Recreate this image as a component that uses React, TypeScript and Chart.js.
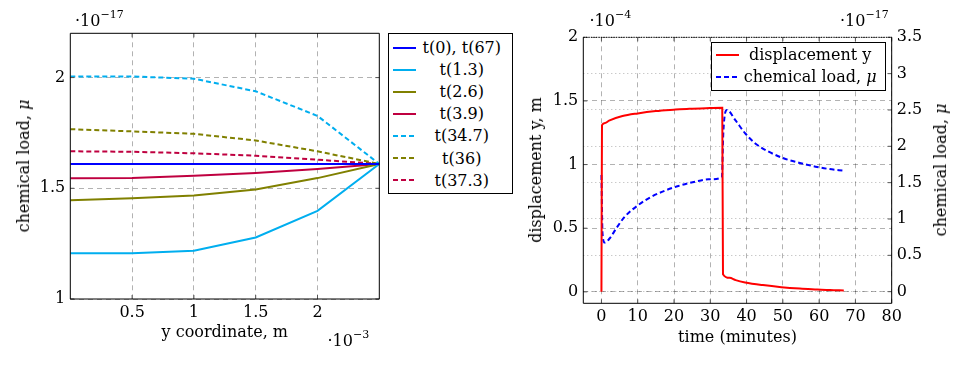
import React, { useEffect, useRef } from 'react';
import { Chart, registerables } from 'chart.js';
Chart.register(...registerables);

const FONT = '"DejaVu Serif", serif';

// ---------- Left chart data (x in 1e-3 m, mu in 1e-17) ----------
const yCoords = [0, 0.5, 1, 1.5, 2, 2.5];
const muT0 = [1.61, 1.61, 1.61, 1.61, 1.61, 1.61];
const muT1_3 = [1.207, 1.207, 1.218, 1.278, 1.398, 1.61];
const muT2_6 = [1.446, 1.455, 1.467, 1.495, 1.546, 1.61];
const muT3_9 = [1.545, 1.546, 1.557, 1.569, 1.587, 1.61];
const muT34_7 = [2.005, 2.005, 1.995, 1.938, 1.827, 1.61];
const muT36 = [1.767, 1.757, 1.746, 1.716, 1.667, 1.61];
const muT37_3 = [1.667, 1.665, 1.658, 1.647, 1.629, 1.61];
const leftLabels = ['t(0), t(67)', 't(1.3)', 't(2.6)', 't(3.9)', 't(34.7)', 't(36)', 't(37.3)'];
const leftXTicks = [0.5, 1, 1.5, 2];
const leftYTicks = [1, 1.5, 2];

// ---------- Right chart data ----------
const dispTime = [0, 0.15, 1, 2.1, 5.8, 10, 15, 19.9, 24.2, 29.9, 33.3, 33.5, 35.3, 37, 39.6, 44.5, 49.6, 54.7, 59.5, 63, 66.8];
const disp = [0, 1.31, 1.327, 1.345, 1.381, 1.402, 1.42, 1.431, 1.439, 1.444, 1.446, 0.139, 0.11, 0.092, 0.074, 0.053, 0.037, 0.026, 0.019, 0.014, 0.011];
const chemTime = [0, 0.3, 0.9, 2.3, 4.1, 6.4, 10.1, 13.8, 17.5, 21.2, 25.8, 29.5, 33.2, 33.6, 34.6, 36.9, 39.6, 42.4, 46.1, 50.2, 54.4, 59, 62.7, 66.8];
const chem = [1.605, 0.8, 0.675, 0.735, 0.872, 1.03, 1.19, 1.307, 1.39, 1.454, 1.513, 1.546, 1.573, 2.2, 2.5, 2.36, 2.18, 2.04, 1.926, 1.835, 1.775, 1.72, 1.688, 1.665];
const timeTicks = [0, 10, 20, 30, 40, 50, 60, 70, 80];
const dispTicks = [0, 0.5, 1, 1.5, 2];
const chemTicks = [0, 0.5, 1, 1.5, 2, 2.5, 3, 3.5];
const rightLabels = ['displacement y', 'chemical load, '];

const BLUE = '#0000ff';
const CYAN = '#00aeef';
const OLIVE = '#808000';
const PURPLE = '#bf0040';
const RED = '#ff0000';
const GRID = 'rgba(0,0,0,0.3)';

const leftSeries = [
  { data: muT0, color: BLUE, dash: [] as number[] },
  { data: muT1_3, color: CYAN, dash: [] },
  { data: muT2_6, color: OLIVE, dash: [] },
  { data: muT3_9, color: PURPLE, dash: [] },
  { data: muT34_7, color: CYAN, dash: [5, 3] },
  { data: muT36, color: OLIVE, dash: [5, 3] },
  { data: muT37_3, color: PURPLE, dash: [5, 3] },
];

const framePlugin = {
  id: 'frame',
  afterDatasetsDraw(chart: any, _args: any, opts: any) {
    const { ctx, chartArea: a } = chart;
    ctx.save();
    ctx.lineWidth = 1;
    ctx.strokeStyle = '#555';
    const sides = opts.tickSides || {};
    for (const id of Object.keys(sides)) {
      const s = chart.scales[id];
      if (!s) continue;
      s.ticks.forEach((t: any) => {
        const p = s.getPixelForValue(t.value);
        ctx.beginPath();
        for (const side of sides[id]) {
          if (side === 'bottom') { ctx.moveTo(p, a.bottom); ctx.lineTo(p, a.bottom - 4); }
          if (side === 'top') { ctx.moveTo(p, a.top); ctx.lineTo(p, a.top + 4); }
          if (side === 'left') { ctx.moveTo(a.left, p); ctx.lineTo(a.left + 4, p); }
          if (side === 'right') { ctx.moveTo(a.right, p); ctx.lineTo(a.right - 4, p); }
        }
        ctx.stroke();
      });
    }
    ctx.strokeStyle = '#000';
    ctx.beginPath();
    ctx.moveTo(a.left, a.top);
    ctx.lineTo(a.left, a.bottom);
    ctx.lineTo(a.right, a.bottom);
    ctx.lineTo(a.right, a.top);
    ctx.stroke();
    if (opts.topDash) ctx.setLineDash(opts.topDash);
    ctx.beginPath();
    ctx.moveTo(a.left, a.top);
    ctx.lineTo(a.right, a.top);
    ctx.stroke();
    ctx.restore();
  },
};

const tickFont = { family: FONT, size: 16 };
const fmt = (v: any) => String(Number(v));

function leftConfig(): any {
  return {
    type: 'line',
    data: {
      labels: yCoords,
      datasets: leftSeries.map((s, i) => ({
        label: leftLabels[i],
        data: yCoords.map((x, j) => ({ x, y: s.data[j] })),
        borderColor: s.color,
        borderDash: s.dash,
        borderWidth: 2,
        pointRadius: 0,
        fill: false,
        tension: 0,
      })),
    },
    plugins: [framePlugin],
    options: {
      animation: false,
      responsive: false,
      devicePixelRatio: 1,
      layout: { padding: { top: 33.3, right: 0.7, left: 0, bottom: 0 } },
      plugins: {
        legend: { display: false },
        tooltip: { enabled: false },
        frame: { tickSides: { x: ['top', 'bottom'], y: ['left', 'right'] } },
      },
      scales: {
        x: {
          type: 'linear',
          min: 0,
          max: 2.5,
          afterBuildTicks: (s: any) => { s.ticks = leftXTicks.map((v) => ({ value: v })); },
          afterFit: (s: any) => { s.height = 67; },
          grid: { color: GRID, drawTicks: false, lineWidth: 1 },
          border: { display: false, dash: [5, 4] },
          ticks: { font: tickFont, color: '#000', padding: 4, maxRotation: 0, callback: fmt },
          title: { display: true, text: 'y coordinate, m', font: tickFont, color: '#000', padding: { top: 0, bottom: 23.4 } },
        },
        y: {
          type: 'linear',
          min: 1,
          max: 2.2,
          afterBuildTicks: (s: any) => { s.ticks = leftYTicks.map((v) => ({ value: v })); },
          afterFit: (s: any) => { s.width = 70.3; },
          grid: { color: GRID, drawTicks: false, lineWidth: 1 },
          border: { display: false, dash: [5, 4] },
          ticks: { font: tickFont, color: '#000', padding: 5, callback: fmt },
        },
      },
    },
  };
}

function rightConfig(): any {
  return {
    type: 'line',
    data: {
      datasets: [
        {
          label: rightLabels[0],
          data: dispTime.map((t, i) => ({ x: t, y: disp[i] })),
          borderColor: RED,
          borderWidth: 2,
          pointRadius: 0,
          fill: false,
          cubicInterpolationMode: 'monotone',
          yAxisID: 'y',
        },
        {
          label: rightLabels[1] + 'μ',
          data: chemTime.map((t, i) => ({ x: t, y: chem[i] })),
          borderColor: BLUE,
          borderDash: [5, 3],
          borderWidth: 2,
          pointRadius: 0,
          fill: false,
          cubicInterpolationMode: 'monotone',
          yAxisID: 'y2',
        },
      ],
    },
    plugins: [framePlugin],
    options: {
      animation: false,
      responsive: false,
      devicePixelRatio: 1,
      layout: { padding: { top: 37.3, right: 0, left: 0, bottom: 0 } },
      plugins: {
        legend: { display: false },
        tooltip: { enabled: false },
        frame: { tickSides: { x: ['top', 'bottom'], y: ['left'], y2: ['right'] }, topDash: [1.5, 1] },
      },
      scales: {
        x: {
          type: 'linear',
          min: -5,
          max: 80,
          afterBuildTicks: (s: any) => { s.ticks = timeTicks.map((v) => ({ value: v })); },
          afterFit: (s: any) => { s.height = 62.7; },
          grid: { color: GRID, drawTicks: false, lineWidth: 1 },
          border: { display: false, dash: [5, 4] },
          ticks: { font: tickFont, color: '#000', padding: 4, maxRotation: 0, autoSkip: false, callback: fmt },
          title: { display: true, text: 'time (minutes)', font: tickFont, color: '#000', padding: { top: 0, bottom: 18.1 } },
        },
        y: {
          type: 'linear',
          position: 'left',
          min: -0.09,
          max: 2,
          afterBuildTicks: (s: any) => { s.ticks = dispTicks.map((v) => ({ value: v })); },
          afterFit: (s: any) => { s.width = 83.3; },
          grid: { color: GRID, drawTicks: false, lineWidth: 1 },
          border: { display: false, dash: [5, 4] },
          ticks: { font: tickFont, color: '#000', padding: 5, callback: fmt },
        },
        y2: {
          type: 'linear',
          position: 'right',
          min: -0.16,
          max: 3.5,
          afterBuildTicks: (s: any) => { s.ticks = chemTicks.map((v) => ({ value: v })); },
          afterFit: (s: any) => { s.width = 74.3; },
          grid: { color: GRID, drawTicks: false, lineWidth: 1 },
          border: { display: false, dash: [1, 3] },
          ticks: { font: tickFont, color: '#000', padding: 5, callback: fmt },
        },
      },
    },
  };
}

function ChartCanvas({ make, left, width }: { make: () => any; left: number; width: number }) {
  const ref = useRef<HTMLCanvasElement>(null);
  useEffect(() => {
    const chart = new Chart(ref.current as HTMLCanvasElement, make());
    return () => chart.destroy();
  }, []);
  return (
    <canvas
      ref={ref}
      width={width}
      height={366}
      style={{ position: 'absolute', left, top: 0, width, height: 366 }}
    />
  );
}

function Sample({ color, dash }: { color: string; dash: number[] }) {
  return (
    <svg width={23} height={4} style={{ display: 'block', flex: '0 0 23px' }}>
      <line x1={0} y1={2} x2={23} y2={2} stroke={color} strokeWidth={2} strokeDasharray={dash.length ? dash.join(' ') : undefined} />
    </svg>
  );
}

function Exponent({ left, top, exp }: { left: number; top: number; exp: string }) {
  return (
    <div style={{ position: 'absolute', left, top, fontSize: 16, lineHeight: '16px', whiteSpace: 'nowrap' }}>
      ·10<span style={{ fontSize: 11, position: 'relative', top: -8, verticalAlign: 'baseline' }}>{exp}</span>
    </div>
  );
}

function VTitle({ x, y, children }: { x: number; y: number; children: React.ReactNode }) {
  return (
    <div
      style={{
        position: 'absolute',
        left: x,
        top: y,
        transform: 'translate(-50%, -50%) rotate(-90deg)',
        fontSize: 16,
        whiteSpace: 'nowrap',
        lineHeight: '18px',
      }}
    >
      {children}
    </div>
  );
}

export default function App() {
  return (
    <div
      style={{
        position: 'absolute',
        left: 0,
        top: 0,
        width: 966,
        height: 366,
        background: '#fff',
        fontFamily: FONT,
        color: '#000',
        overflow: 'hidden',
      }}
    >
      <ChartCanvas make={leftConfig} left={0} width={380} />
      <ChartCanvas make={rightConfig} left={500} width={466} />

      <VTitle x={24} y={166}>chemical load, <i>μ</i></VTitle>
      <VTitle x={536} y={170}>displacement y, m</VTitle>
      <VTitle x={941} y={170}>chemical load, <i>μ</i></VTitle>

      <Exponent left={75} top={12.5} exp="−17" />
      <Exponent left={327.5} top={333.2} exp="−3" />
      <Exponent left={589.5} top={13.2} exp="−4" />
      <Exponent left={840} top={13.2} exp="−17" />

      <div
        style={{
          position: 'absolute',
          left: 388,
          top: 33,
          width: 125,
          height: 161,
          border: '1px solid #000',
          boxSizing: 'border-box',
          padding: '2.5px 4.5px 0 4px',
          background: '#fff',
        }}
      >
        {leftSeries.map((s, i) => (
          <div key={i} style={{ display: 'flex', alignItems: 'center', height: 22.1 }}>
            <Sample color={s.color} dash={s.dash} />
            <div style={{ flex: 1, textAlign: 'center', fontSize: 16, whiteSpace: 'nowrap' }}>{leftLabels[i]}</div>
          </div>
        ))}
      </div>

      <div
        style={{
          position: 'absolute',
          left: 711,
          top: 42,
          width: 175,
          height: 48.5,
          border: '1px solid #000',
          boxSizing: 'border-box',
          padding: '1px 3.7px 0 4px',
          background: '#fff',
        }}
      >
        <div style={{ display: 'flex', alignItems: 'center', height: 21.7 }}>
          <Sample color={RED} dash={[]} />
          <div style={{ flex: 1, textAlign: 'center', fontSize: 16, whiteSpace: 'nowrap' }}>{rightLabels[0]}</div>
        </div>
        <div style={{ display: 'flex', alignItems: 'center', height: 21.7 }}>
          <Sample color={BLUE} dash={[5, 3]} />
          <div style={{ flex: 1, textAlign: 'center', fontSize: 16, whiteSpace: 'nowrap' }}>
            {rightLabels[1]}<i>μ</i>
          </div>
        </div>
      </div>
    </div>
  );
}
